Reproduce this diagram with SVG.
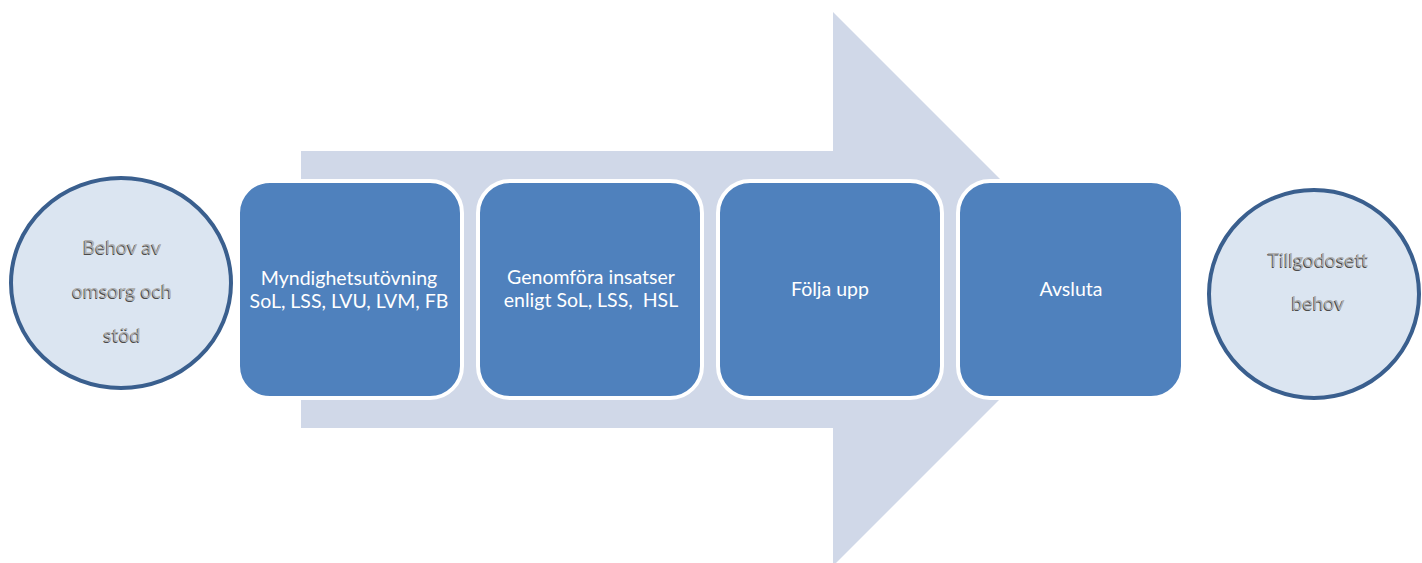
<svg xmlns="http://www.w3.org/2000/svg" width="1422" height="563" viewBox="0 0 1422 563">
<style>
.box{fill:#4f81bd;stroke:#ffffff;stroke-width:4}
.circ{fill:#dbe5f1;stroke:#3a5f8e;stroke-width:4}
.bt{font-family:Lato,"Open Sans","Liberation Sans",sans-serif;font-size:19.5px;fill:#ffffff;text-anchor:middle}
.ct{font-family:Lato,"Open Sans","Liberation Sans",sans-serif;font-size:19.5px;text-anchor:middle}
.sh{fill:#4a4a4a}
.fg{fill:#b0b0b0}
</style>
<rect width="1422" height="563" fill="#ffffff"/>
<g id="arrow">
<polygon points="301,151 833,151 833,12 1110,289 833,566 833,428 301,428" fill="#d0d8e8"/>
</g>
<g id="connectors"></g>
<g id="start">
<ellipse class="circ" cx="121" cy="283" rx="110" ry="105"/>
<g class="ct sh" transform="translate(-0.8,0.8)">
<text x="122" y="254">Behov av</text>
<text x="122" y="298">omsorg och</text>
<text x="122" y="342">stöd</text>
</g>
<g class="ct fg">
<text x="122" y="254">Behov av</text>
<text x="122" y="298">omsorg och</text>
<text x="122" y="342">stöd</text>
</g>
</g>
<g id="step1">
<rect class="box" x="238" y="181" width="224" height="217" rx="32"/>
<text class="bt" x="349" y="285">Myndighetsutövning</text>
<text class="bt" x="349" y="308">SoL, LSS, LVU, LVM, FB</text>
</g>
<g id="step2">
<rect class="box" x="478" y="181" width="224" height="217" rx="32"/>
<text class="bt" x="591" y="284">Genomföra insatser</text>
<text class="bt" x="591" y="307" xml:space="preserve">enligt SoL, LSS,  HSL</text>
</g>
<g id="step3">
<rect class="box" x="718" y="181" width="224" height="217" rx="32"/>
<text class="bt" x="830" y="296">Följa upp</text>
</g>
<g id="step4">
<rect class="box" x="958" y="181" width="225" height="217" rx="32"/>
<text class="bt" x="1071" y="296">Avsluta</text>
</g>
<g id="end">
<ellipse class="circ" cx="1314" cy="294" rx="105" ry="104"/>
<g class="ct sh" transform="translate(-0.8,0.8)">
<text x="1318" y="267">Tillgodosett</text>
<text x="1318" y="310">behov</text>
</g>
<g class="ct fg">
<text x="1318" y="267">Tillgodosett</text>
<text x="1318" y="310">behov</text>
</g>
</g>
</svg>
